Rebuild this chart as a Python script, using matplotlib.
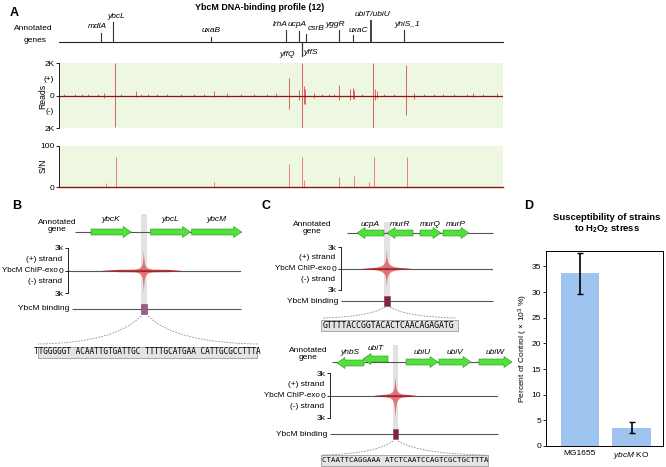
import numpy as np
import matplotlib.pyplot as plt
from matplotlib.patches import FancyArrow, Rectangle, PathPatch
from matplotlib.path import Path
from matplotlib.transforms import blended_transform_factory, ScaledTranslation

plt.rcParams['font.family'] = ['Liberation Sans', 'DejaVu Sans']
plt.rcParams['mathtext.fontset'] = 'custom'
plt.rcParams['mathtext.rm'] = 'Liberation Sans'
plt.rcParams['mathtext.it'] = 'Liberation Sans:italic'
plt.rcParams['mathtext.bf'] = 'Liberation Sans:bold'

# ---- panel A: genome-wide profile (positions in Mb) ----
genome_mb = 4.64
A_gene_names = ['mdlA', 'ybcL', 'uxaB', 'lrhA', 'ucpA', 'yffQ', 'yffS', 'csrB',
                'yggR', 'uxaC', 'ubiT/ubiU', 'yhiS_1']
A_gene_mb = [0.438, 0.563, 1.589, 2.371, 2.513, 2.541, 2.541, 2.586,
             2.923, 3.069, 3.260, 3.605]

A_read_mb = [0.056, 0.167, 0.240, 0.306, 0.403, 0.473, 0.584, 0.647, 0.800, 0.855,
             0.925, 1.029, 1.133, 1.272, 1.411, 1.516, 1.620, 1.759, 1.898, 2.037,
             2.176, 2.266, 2.405, 2.506, 2.541, 2.565, 2.576, 2.663, 2.750, 2.819,
             2.871, 2.923, 3.045, 3.073, 3.087, 3.167, 3.281, 3.305, 3.323, 3.393,
             3.497, 3.629, 3.705, 3.810, 3.914, 4.018, 4.123, 4.262, 4.331, 4.435,
             4.574]
A_read_plus = [80, 80, 100, 80, 80, 150, 2000, 80, 250, 80,
               100, 80, 80, 120, 80, 80, 300, 150, 80, 100,
               80, 150, 1100, 350, 2000, 600, 400, 150, 100, 120,
               100, 650, 400, 450, 350, 100, 2000, 400, 300, 100,
               100, 1850, 150, 80, 100, 100, 100, 80, 150, 80,
               150]
A_read_minus = [60, 60, 80, 60, 60, 150, 1950, 60, 100, 60,
                60, 60, 60, 80, 60, 60, 100, 80, 60, 60,
                60, 80, 800, 250, 2000, 550, 500, 150, 60, 60,
                60, 300, 250, 200, 200, 60, 2000, 300, 150, 60,
                60, 1200, 200, 60, 60, 60, 60, 60, 100, 60,
                100]

A_sn_mb = [0.494, 0.594, 1.623, 2.405, 2.541, 2.565, 2.923, 3.080, 3.236, 3.288, 3.636]
A_sn = [10, 72, 12, 57, 72, 17, 24, 26, 12, 72, 72]

# ---- panels B/C: local tracks (bp, relative) ----
B_genes = ['ybcK', 'ybcL', 'ybcM']
B_start = [96, 452, 699]
B_end = [337, 693, 1000]
B_strand = [1, 1, 1]
B_site = (398, 434)
B_peak = 410
B_off = [-260, -150, -60, -36, -18, -8, -3, 0, 3, 8, 18, 36, 60, 150, 230]
B_plus = [0, 150, 170, 250, 450, 800, 1600, 2700, 1600, 800, 450, 250, 170, 150, 0]
B_minus = [0, 150, 170, 260, 480, 850, 1700, 2900, 1700, 850, 480, 260, 170, 150, 0]
B_seq = 'TTGGGGGT ACAATTGTGATTGC TTTTGCATGAA CATTGCGCCTTTA'

C1_genes = ['ucpA', 'murR', 'murQ', 'murP']
C1_start = [60, 240, 438, 576]
C1_end = [222, 396, 564, 732]
C1_strand = [-1, -1, 1, 1]
C1_site = (222, 258)
C1_peak = 236
C1_off = [-150, -90, -60, -36, -18, -8, -3, 0, 3, 8, 18, 36, 60, 90, 150]
C1_plus = [0, 120, 200, 350, 600, 950, 1600, 2500, 1600, 950, 600, 350, 200, 120, 0]
C1_minus = [0, 120, 200, 350, 600, 900, 1500, 2400, 1500, 900, 600, 350, 200, 120, 0]
C1_seq = 'GTTTTACCGGTACACTCAACAGAGATG'

C2_genes = ['yhbS', 'ubiT', 'ubiU', 'ubiV', 'ubiW']
C2_start = [30, 186, 444, 642, 882]
C2_end = [192, 336, 636, 834, 1080]
C2_strand = [-1, -1, 1, 1, 1]
C2_site = (366, 396)
C2_peak = 378
C2_off = [-130, -80, -50, -30, -15, -7, -3, 0, 3, 7, 15, 30, 50, 80, 130]
C2_plus = [0, 130, 180, 300, 550, 950, 1700, 2500, 1700, 950, 550, 300, 180, 130, 0]
C2_minus = [0, 130, 180, 300, 600, 1050, 1900, 3000, 1900, 1050, 600, 300, 180, 130, 0]
C2_seq = 'CTAATTCAGGAAA ATCTCAATCCAGTCGCTGCTTTA'

# ---- panel D ----
D_strains = ['MG1655', '$\\it{ybcM}$ KO']
D_mean = [33.7, 3.6]
D_err = [4.0, 1.1]

W, H = 666, 467
fig = plt.figure(figsize=(W / 100, H / 100), dpi=100)


def px_axes(x0, y0, x1, y1, **kw):
    return fig.add_axes([x0 / W, 1 - y1 / H, (x1 - x0) / W, (y1 - y0) / H], **kw)


ov = px_axes(0, 0, W, H, zorder=5)
ov.set_xlim(0, W)
ov.set_ylim(H, 0)
ov.axis('off')
ov.patch.set_alpha(0)

fs = 6.0
red_light = '#e4434c'
red_dark = '#8b1414'
green = '#4fe23a'
band_col = '#e2e2e2'

# ================= A =================
ov.text(10, 13, 'A', fontsize=9, fontweight='bold', va='center')
ov.text(260, 7, 'YbcM DNA-binding profile (12)', fontsize=6.4, fontweight='bold',
        ha='center', va='center')

axR = px_axes(59, 63, 503, 128)
axR.set_facecolor('#eef7e1')
axR.set_xlim(0, genome_mb)
axR.set_ylim(-2000, 2000)
axR.vlines(A_read_mb, 0, A_read_plus, color='#dc4a4a', lw=0.6)
axR.vlines(A_read_mb, -np.array(A_read_minus), 0, color='#dc4a4a', lw=0.6)
axR.axhline(0, color=red_dark, lw=0.9)
for s in ['top', 'right', 'bottom']:
    axR.spines[s].set_visible(False)
axR.spines['left'].set_linewidth(0.6)
axR.set_xticks([])
axR.set_yticks([-2000, 0, 2000])
axR.set_yticklabels(['2K', '0', '2K'])
axR.tick_params(axis='y', length=2, width=0.6, labelsize=fs, pad=1)
axR.text(-0.012, 0.75, '(+)', transform=axR.transAxes, fontsize=fs, ha='right', va='center')
axR.text(-0.012, 0.25, '(-)', transform=axR.transAxes, fontsize=fs, ha='right', va='center')
ov.text(43, 96, 'Reads', fontsize=6.2, rotation=90, ha='center', va='center')

axS = px_axes(59, 146, 503, 187)
axS.set_facecolor('#eef7e1')
axS.set_xlim(0, genome_mb)
axS.set_ylim(0, 100)
axS.vlines(A_sn_mb, 0, A_sn, color='#ee6a6a', lw=0.6)
for s in ['top', 'right']:
    axS.spines[s].set_visible(False)
axS.spines['bottom'].set_color(red_dark)
axS.spines['bottom'].set_linewidth(1.0)
axS.spines['left'].set_linewidth(0.6)
axS.set_xticks([])
axS.set_yticks([0, 100])
axS.tick_params(axis='y', length=2, width=0.6, labelsize=fs, pad=1)
ov.text(43, 166, 'S/N', fontsize=6.2, rotation=90, ha='center', va='center')

# gene annotation track (x in Mb, y in pixels)
tg = blended_transform_factory(axR.transData, ov.transData)
ov.text(33, 29, 'Annotated', fontsize=fs, ha='center', va='center')
ov.text(35, 41, 'genes', fontsize=fs, ha='center', va='center')
ov.plot([0, genome_mb], [42, 42], transform=tg, color='#222222', lw=0.8)
# tick end (px), label x offset (px), label y (px)
A_gene_layout = {'mdlA': (33, -3, 26), 'ybcL': (22, 3, 17), 'uxaB': (37, 0, 31),
                 'lrhA': (30, -6, 25), 'ucpA': (31, -2, 25), 'yffQ': (56, -15, 55),
                 'yffS': (56, 9, 52), 'csrB': (34, 10, 28), 'yggR': (30, -3, 25),
                 'uxaC': (35, 6, 31), 'ubiT/ubiU': (21, 2, 15), 'yhiS_1': (30, 3, 25)}
for name, mb in zip(A_gene_names, A_gene_mb):
    yend, dx, ly = A_gene_layout[name]
    lw = 1.3 if name == 'ubiT/ubiU' else 0.8
    ov.plot([mb, mb], [42, yend], transform=tg, color='#333333', lw=lw)
    ov.annotate(name, (mb, ly), xycoords=tg, xytext=(dx * 0.72, 0), textcoords='offset points',
                fontsize=fs, fontstyle='italic', ha='center', va='center')


# ================= B / C helpers =================
def track_panel(px0, rect, row_y, bind_y, line_px, bind_px, chip_rect, band_top,
                starts, ends, strands, names, row_dy, label_dy, site, peak, off,
                plus, minus, box_col, label_xy):
    s = 6.0  # bp per pixel

    def xl(a, b):
        return ((a - px0) * s, (b - px0) * s)

    x0, y0, x1, y1 = rect
    ax = px_axes(x0, y0, x1, y1, zorder=1)
    ax.set_xlim(*xl(x0, x1))
    ax.set_ylim(y1, y0)
    ax.axis('off')
    ax.add_patch(Rectangle((site[0], band_top), site[1] - site[0], bind_y - band_top,
                           color=band_col, lw=0, zorder=0))
    ax.hlines(row_y, *xl(*line_px), color='#555555', lw=0.8, zorder=1)
    ax.hlines(bind_y, *xl(*bind_px), color='#555555', lw=0.8, zorder=1)
    for st, en, d, nm, dy in zip(starts, ends, strands, names, row_dy):
        y = row_y + dy
        xs, dxa = (st, en - st) if d > 0 else (en, st - en)
        ax.add_patch(FancyArrow(xs, y, dxa, 0, width=6, head_width=11, head_length=8 * s,
                                length_includes_head=True, fc=green, ec='#2f8f22',
                                lw=0.4, zorder=2))
        ax.text((st + en) / 2, y + label_dy, nm, fontsize=fs, fontstyle='italic',
                ha='center', va='center')
    ax.add_patch(Rectangle((site[0], bind_y - 5), site[1] - site[0], 10,
                           fc=box_col, ec='#555555', lw=0.4, zorder=3))
    ax.text(xl(bind_px[0] - 3, 0)[0], bind_y, 'YbcM binding', fontsize=fs,
            ha='right', va='center')
    ov.text(*label_xy, 'Annotated\ngene', fontsize=fs, ha='center', va='center',
            linespacing=1.15)

    cx0, cy0, cx1, cy1 = chip_rect
    axc = px_axes(cx0, cy0, cx1, cy1, zorder=2)
    axc.patch.set_alpha(0)
    axc.set_xlim(*xl(cx0, cx1))
    axc.set_ylim(-3000, 3000)
    axc.axhline(0, color='#555555', lw=0.8, zorder=1)
    xs = peak + np.array(off)
    plus = np.array(plus)
    minus = np.array(minus)
    axc.fill_between(xs, 0, plus, color=red_light, alpha=0.7, lw=0, zorder=2)
    axc.fill_between(xs, -minus, 0, color=red_light, alpha=0.7, lw=0, zorder=2)
    axc.fill_between(xs, -np.minimum(minus, 150), np.minimum(plus, 150),
                     color=red_dark, alpha=0.6, lw=0, zorder=3)
    for sp in ['top', 'right', 'bottom']:
        axc.spines[sp].set_visible(False)
    axc.spines['left'].set_linewidth(0.6)
    axc.set_xticks([])
    axc.set_yticks([-3000, 0, 3000])
    axc.set_yticklabels(['3k', '0', '3k'])
    axc.tick_params(axis='y', length=2, width=0.6, labelsize=fs, pad=1)

    t = blended_transform_factory(axc.transAxes, axc.transData)
    for yv, txt, d, f in [(1500, '(+) strand', 4, fs), (0, 'YbcM ChIP-exo', 7.6, 5.8),
                          (-1500, '(-) strand', 4, fs)]:
        axc.text(0, yv, txt, transform=t + ScaledTranslation(-d / 72, 0, fig.dpi_scale_trans),
                 fontsize=f, ha='right', va='center')
    return ax, axc


def dashed_fan(x_left_top, x_right_top, y_top, x_left, x_right, y_bot):
    for xa, xb in [(x_left_top, x_left), (x_right_top, x_right)]:
        verts = [(xa, y_top), (xa + (xb - xa) * 0.25, y_bot - 1), (xb, y_bot)]
        p = Path(verts, [Path.MOVETO, Path.CURVE3, Path.CURVE3])
        ov.add_patch(PathPatch(p, fc='none', ec='#8a8a8a', lw=0.6, ls=(0, (2, 1.5))))


def seq_box(text, x_text, y, box_x0, box_x1, fsz):
    ov.add_patch(Rectangle((box_x0, y - 5.5), box_x1 - box_x0, 11, fc='#e4e4e4',
                           ec='#8a8a8a', lw=0.5))
    ov.text(x_text, y, text, fontsize=fsz, family='DejaVu Sans Mono', ha='left',
            va='center')


# ================= B =================
ov.text(12, 206, 'B', fontsize=9, fontweight='bold', va='center')
track_panel(75, (30, 208, 260, 320), 232, 309, (75, 241), (72, 241),
            (68, 248, 241, 293), 214, B_start, B_end, B_strand, B_genes,
            [0, 0, 0], -12, B_site, B_peak, B_off, B_plus, B_minus,
            '#a2588c', (57, 226))
dashed_fan(141, 148, 316, 38, 258, 344)
seq_box(B_seq, 34, 352, 38, 257, 5.6)

# ================= C =================
ov.text(262, 206, 'C', fontsize=9, fontweight='bold', va='center')
track_panel(347, (300, 214, 505, 312), 233, 301, (347, 493), (341, 493),
            (341, 247, 493, 290), 222, C1_start, C1_end, C1_strand,
            C1_genes, [0, 0, 0, 0], -9, C1_site, C1_peak, C1_off,
            C1_plus, C1_minus, '#8b1a4f', (312, 228))
dashed_fan(385, 390, 307, 322, 456, 318)
seq_box(C1_seq, 323, 325, 321, 458, 5.85)

track_panel(332, (300, 340, 520, 445), 362, 434, (332, 505), (330, 498),
            (330, 373, 498, 418), 345, C2_start, C2_end, C2_strand,
            C2_genes, [1, -3, 0, 0, 0], -10, C2_site, C2_peak, C2_off,
            C2_plus, C2_minus, '#8b1a4f', (308, 354))
dashed_fan(393, 398, 441, 322, 485, 455)
seq_box(C2_seq, 322, 460, 321, 488, 5.35)

# ================= D =================
ov.text(524, 206, 'D', fontsize=9, fontweight='bold', va='center')
ov.text(607, 218, 'Susceptibility of strains', fontsize=6.8, fontweight='bold',
        ha='center', va='center')
ov.text(607, 229, 'to H$_\\mathbf{2}$O$_\\mathbf{2}$ stress', fontsize=6.8,
        fontweight='bold', ha='center', va='center')

axD = px_axes(546, 251, 663, 446)
axD.bar([0, 1], D_mean, width=0.74, color='#a0c4f0')
axD.errorbar([0, 1], D_mean, yerr=D_err, fmt='none', ecolor='black', elinewidth=1.2,
             capsize=2.5, capthick=1.0)
axD.set_xlim(-0.66, 1.61)
axD.set_ylim(0, 38)
axD.set_yticks(range(0, 36, 5))
axD.set_xticks([0, 1])
axD.set_xticklabels(D_strains)
axD.tick_params(axis='y', length=2, width=0.6, labelsize=fs, pad=1.5)
axD.tick_params(axis='x', length=0, labelsize=fs, pad=3)
for sp in axD.spines.values():
    sp.set_linewidth(0.7)
axD.set_ylabel('Percent of Control ( × 10$^3$ %)', fontsize=fs, labelpad=1)

fig.savefig('out.png', dpi=100)
